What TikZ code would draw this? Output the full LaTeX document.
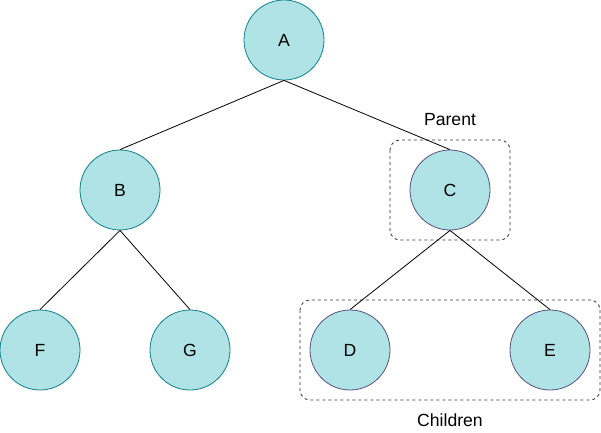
\documentclass[tikz,border=0pt]{standalone}
\usepackage{fontspec}
\setmainfont{Liberation Sans}
\definecolor{nodefill}{HTML}{B0E3E6}
\definecolor{tealline}{HTML}{0E8088}
\definecolor{purpleline}{HTML}{56517E}
\begin{document}
\begin{tikzpicture}[x=1pt,y=-1pt,
  every node/.style={font=\fontsize{17.6}{21}\selectfont},
  circ/.style={circle,fill=nodefill,minimum size=80pt,inner sep=0pt,line width=0.8pt},
  tealc/.style={circ,draw=tealline},
  purpc/.style={circ,draw=purpleline},
  edge/.style={draw=black,line width=0.8pt},
  group/.style={draw=black!80,dashed,rounded corners=10pt,line width=0.8pt}]
\useasboundingbox (0,0) rectangle (601,432);
\node[tealc] (A) at (284,40) {A};
\node[tealc] (B) at (120,190) {B};
\node[purpc] (C) at (450,190) {C};
\node[tealc] (F) at (40,350) {F};
\node[tealc] (G) at (190,350) {G};
\node[purpc] (D) at (350,350) {D};
\node[purpc] (E) at (550,350) {E};
\draw[group] (390,140) rectangle (510,240);
\draw[group] (300,300) rectangle (600,400);
\node (parent) at (450,120) {Parent};
\node (children) at (450,420) {Children};
\draw[edge] (A.south) -- (B.north);
\draw[edge] (A.south) -- (C.north);
\draw[edge] (B.south) -- (F.north);
\draw[edge] (B.south) -- (G.north);
\draw[edge] (C.south) -- (D.north);
\draw[edge] (C.south) -- (E.north);
\end{tikzpicture}
\end{document}
